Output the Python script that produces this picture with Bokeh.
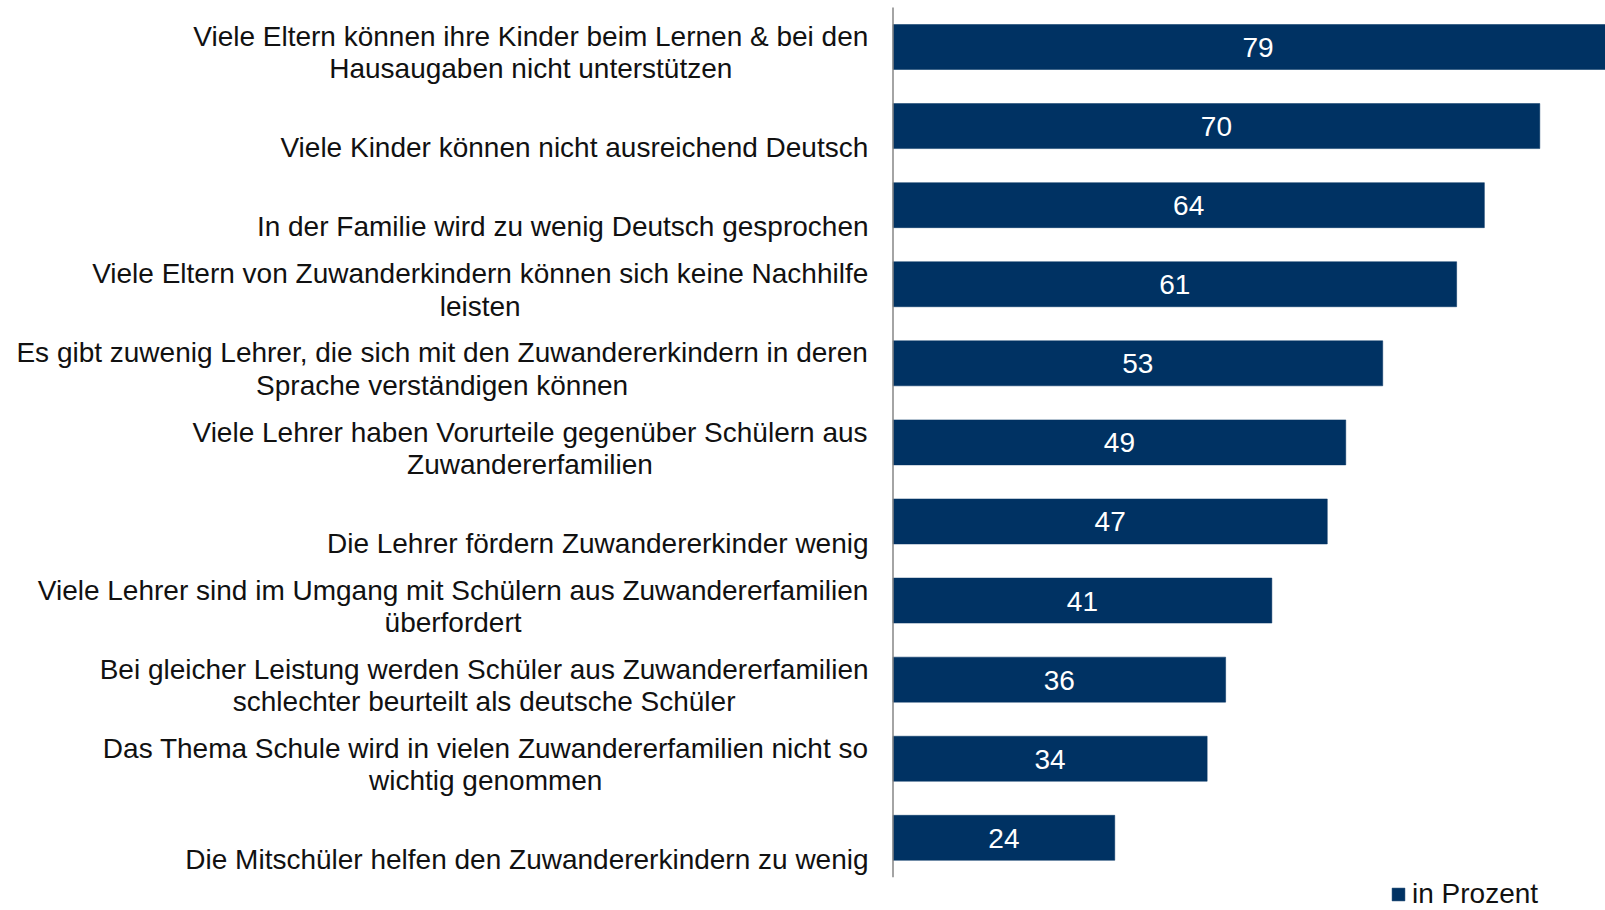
from bokeh.plotting import figure
from bokeh.models import ColumnDataSource, Range1d, Legend, LegendItem
from bokeh.core.properties import value
from bokeh.embed import file_html
from bokeh.resources import INLINE

# ---------------- data ----------------
categories = [
    "Viele Eltern können ihre Kinder beim Lernen & bei den\nHausaugaben nicht unterstützen",
    "Viele Kinder können nicht ausreichend Deutsch",
    "In der Familie wird zu wenig Deutsch gesprochen",
    "Viele Eltern von Zuwanderkindern können sich keine Nachhilfe\nleisten",
    "Es gibt zuwenig Lehrer, die sich mit den Zuwandererkindern in deren\nSprache verständigen können",
    "Viele Lehrer haben Vorurteile gegenüber Schülern aus\nZuwandererfamilien",
    "Die Lehrer fördern Zuwandererkinder wenig",
    "Viele Lehrer sind im Umgang mit Schülern aus Zuwandererfamilien\nüberfordert",
    "Bei gleicher Leistung werden Schüler aus Zuwandererfamilien\nschlechter beurteilt als deutsche Schüler",
    "Das Thema Schule wird in vielen Zuwandererfamilien nicht so\nwichtig genommen",
    "Die Mitschüler helfen den Zuwandererkindern zu wenig",
]
values = [79, 70, 64, 61, 53, 49, 47, 41, 36, 34, 24]
series_name = "in Prozent"

# ---------------- layout / style ----------------
W, H = 1605, 910
FONT = "Liberation Sans"
FS = 28
BAR_COLOR = "#003263"
AXIS_COLOR = "#868686"

PX_X = 9.24          # pixels per value unit
AXIS_PX = 892.5      # pixel x of the value axis (0)
ROW_PX = 79.08       # pixels per category row
FIRST_ROW_PX = 46.5  # pixel y of the first bar centre
LABEL_GAP_PX = 24.5  # gap between labels and axis
LINE_PX = 32.2       # line spacing of category labels
BASE_PX = 21.8       # last label line offset below bar centre
VAL_BASE_PX = 0.5    # value label offset below bar centre

n = len(categories)
x_start = -AXIS_PX / PX_X
x_end = (W - AXIS_PX) / PX_X
y_top = (n - 1) + FIRST_ROW_PX / ROW_PX
y_bottom = (n - 1) - (H - FIRST_ROW_PX) / ROW_PX

# Arial / Liberation Sans advance widths (1/1000 em)
CW = {' ': 278, 'a': 556, 'b': 556, 'c': 500, 'd': 556, 'e': 556, 'f': 278, 'g': 556,
      'h': 556, 'i': 222, 'j': 222, 'k': 500, 'l': 222, 'm': 833, 'n': 556, 'o': 556,
      'p': 556, 'q': 556, 'r': 333, 's': 500, 't': 278, 'u': 556, 'v': 500, 'w': 722,
      'x': 500, 'y': 500, 'z': 500, 'ä': 556, 'ö': 556, 'ü': 556, 'ß': 611,
      'A': 667, 'B': 667, 'C': 722, 'D': 722, 'E': 667, 'F': 611, 'G': 778, 'H': 722,
      'I': 278, 'J': 500, 'K': 667, 'L': 556, 'M': 833, 'N': 722, 'O': 778, 'P': 667,
      'Q': 778, 'R': 722, 'S': 667, 'T': 611, 'U': 722, 'V': 667, 'W': 944, 'X': 667,
      'Y': 667, 'Z': 611, ',': 278, '.': 278, '&': 667}


def text_width(s):
    return sum(CW.get(ch, 556) for ch in s) / 1000.0 * FS


ys = [(n - 1) - i for i in range(n)]
bars_src = ColumnDataSource(dict(
    y=ys, v=values, mid=[v / 2 for v in values],
    vy=[y - VAL_BASE_PX / ROW_PX for y in ys],
    vt=[str(v) for v in values],
))

lx, ly, lt = [], [], []
right_px = AXIS_PX - LABEL_GAP_PX
for y, cat in zip(ys, categories):
    lines = cat.split("\n")
    wmax = max(text_width(l) for l in lines)
    cx_px = right_px - wmax / 2
    m = len(lines)
    for k, line in enumerate(lines):
        off = BASE_PX - LINE_PX * (m - 1 - k)
        lx.append((cx_px - AXIS_PX) / PX_X)
        ly.append(y - off / ROW_PX)
        lt.append(line)
lab_src = ColumnDataSource(dict(x=lx, y=ly, t=lt))

p = figure(width=W, height=H, x_range=Range1d(x_start, x_end),
           y_range=Range1d(y_bottom, y_top),
           output_backend="svg", toolbar_location=None,
           x_axis_location=None, y_axis_location=None,
           min_border=0, outline_line_color=None)
p.grid.visible = False
p.background_fill_color = "white"
p.border_fill_color = "white"

bars = p.hbar(y="y", left=0, right="v", height=45 / ROW_PX, source=bars_src,
              fill_color=BAR_COLOR, line_color=BAR_COLOR, line_width=0.5)

p.segment(x0=[0], y0=[-0.5], x1=[0], y1=[n - 0.5],
          line_color=AXIS_COLOR, line_width=1.5)

p.text(x="mid", y="vy", text="vt", source=bars_src, text_align="center",
       text_baseline="middle", text_color="white",
       text_font=value(FONT), text_font_size=f"{FS}px")

p.text(x="x", y="y", text="t", source=lab_src, text_align="center",
       text_baseline="middle", text_color="#111111",
       text_font=value(FONT), text_font_size=f"{FS}px")

legend = Legend(items=[LegendItem(label=series_name, renderers=[bars])],
                location=(1390, 0), orientation="horizontal",
                glyph_width=16, glyph_height=16, label_standoff=6,
                padding=0, margin=0, border_line_color=None,
                background_fill_alpha=0,
                label_text_font=FONT, label_text_font_size=f"{FS}px",
                label_text_color="#111111")
p.add_layout(legend)

open("out.html", "w").write(file_html(p, INLINE))
